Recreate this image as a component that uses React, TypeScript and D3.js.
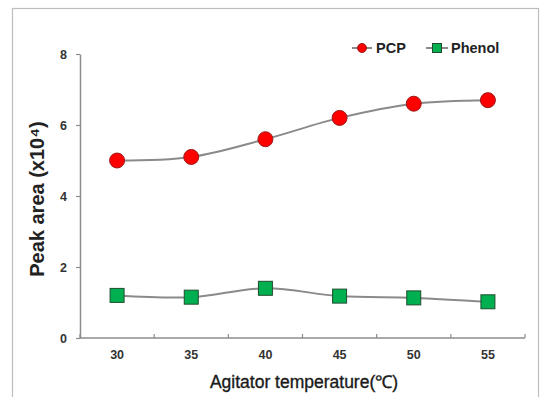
import { useEffect, useRef } from 'react';
import * as d3 from 'd3';

const temperatures = ['30', '35', '40', '45', '50', '55'];
const pcpValues = [5.0, 5.1, 5.6, 6.2, 6.6, 6.7];
const phenolValues = [1.2, 1.15, 1.4, 1.18, 1.13, 1.02];
const yTicks = [0, 2, 4, 6, 8];

const W = 540;
const H = 397;

export default function App() {
    const svgRef = useRef<SVGSVGElement>(null);

    useEffect(() => {
        if (!svgRef.current) return;
        const svg = d3.select(svgRef.current);
        svg.selectAll('*').remove();

        const margin = { top: 54, right: 15, bottom: 59, left: 80 };
        const innerW = W - margin.left - margin.right;
        const innerH = H - margin.top - margin.bottom;
        const font = 'Arial, "Liberation Sans", sans-serif';
        const axisColor = '#8c8c8c';

        // frame around the picture
        svg.append('rect')
            .attr('x', 12.5).attr('y', 8.5)
            .attr('width', 526).attr('height', 400)
            .attr('fill', 'white')
            .attr('stroke', '#bdbdbd')
            .attr('stroke-width', 1.2);

        const x = d3.scaleBand().domain(temperatures).range([0, innerW]);
        const y = d3.scaleLinear().domain([0, 8]).range([innerH, 0]);

        const g = svg.append('g').attr('transform', `translate(${margin.left},${margin.top})`);

        // y axis
        const yAxis = g.append('g')
            .call(d3.axisLeft(y).tickValues(yTicks).tickSize(4).tickSizeOuter(0).tickPadding(9));
        yAxis.select('.domain').attr('stroke', axisColor).attr('stroke-width', 1.5);
        yAxis.selectAll('line').attr('stroke', axisColor).attr('stroke-width', 1.2);
        yAxis.selectAll('text')
            .attr('font-family', font).attr('font-size', 12.5).attr('font-weight', 'bold').attr('fill', '#333');

        // x axis (ticks at the band edges)
        const xAxisG = g.append('g').attr('transform', `translate(0,${innerH})`);
        xAxisG.append('line')
            .attr('x1', 0).attr('x2', innerW)
            .attr('stroke', axisColor).attr('stroke-width', 1.5);
        const edges = temperatures.map(t => x(t) || 0).concat([innerW]);
        xAxisG.selectAll('.edge')
            .data(edges)
            .enter()
            .append('line')
            .attr('class', 'edge')
            .attr('x1', d => d).attr('x2', d => d)
            .attr('y1', 0).attr('y2', -4)
            .attr('stroke', axisColor).attr('stroke-width', 1.2);
        xAxisG.selectAll('.lbl')
            .data(temperatures)
            .enter()
            .append('text')
            .attr('class', 'lbl')
            .attr('x', d => (x(d) || 0) + x.bandwidth() / 2)
            .attr('y', 21)
            .attr('text-anchor', 'middle')
            .attr('font-family', font).attr('font-size', 12.5).attr('font-weight', 'bold').attr('fill', '#333')
            .text(d => d);

        const cx = (t: string) => (x(t) || 0) + x.bandwidth() / 2;

        const line = d3.line<number>()
            .x((_, i) => cx(temperatures[i]))
            .y(d => y(d))
            .curve(d3.curveCatmullRom.alpha(0.5));

        // PCP
        g.append('path')
            .datum(pcpValues)
            .attr('fill', 'none')
            .attr('stroke', '#8a8a8a')
            .attr('stroke-width', 2)
            .attr('d', line);
        g.selectAll('.pcp')
            .data(pcpValues)
            .enter()
            .append('circle')
            .attr('class', 'pcp')
            .attr('cx', (_, i) => cx(temperatures[i]))
            .attr('cy', d => y(d))
            .attr('r', 7.5)
            .attr('fill', '#ff0000')
            .attr('stroke', '#9a1a1a')
            .attr('stroke-width', 1);

        // Phenol
        g.append('path')
            .datum(phenolValues)
            .attr('fill', 'none')
            .attr('stroke', '#8a8a8a')
            .attr('stroke-width', 2)
            .attr('d', line);
        g.selectAll('.phenol')
            .data(phenolValues)
            .enter()
            .append('rect')
            .attr('class', 'phenol')
            .attr('x', (_, i) => cx(temperatures[i]) - 7)
            .attr('y', d => y(d) - 7)
            .attr('width', 14)
            .attr('height', 14)
            .attr('fill', '#00b050')
            .attr('stroke', '#1f4d2e')
            .attr('stroke-width', 1);

        // axis titles
        svg.append('text')
            .attr('transform', `translate(44,${margin.top + innerH / 2 + 3}) rotate(-90)`)
            .attr('text-anchor', 'middle')
            .attr('font-family', font).attr('font-size', 20).attr('font-weight', 'bold').attr('fill', '#222')
            .text('Peak area (x10⁴)');

        svg.append('text')
            .attr('x', 304)
            .attr('y', 388)
            .attr('text-anchor', 'middle')
            .attr('font-family', font).attr('font-size', 17.5).attr('fill', '#1a1a1a')
            .attr('stroke', '#1a1a1a').attr('stroke-width', 0.35)
            .text('Agitator temperature(℃)');

        // legend
        const legend = svg.append('g').attr('transform', 'translate(0,48)');
        legend.append('line').attr('x1', 352).attr('x2', 372).attr('stroke', '#8a8a8a').attr('stroke-width', 2);
        legend.append('circle').attr('cx', 362).attr('r', 4.5).attr('fill', '#ff0000').attr('stroke', '#9a1a1a');
        legend.append('text')
            .attr('x', 376).attr('y', 5)
            .attr('font-family', font).attr('font-size', 14.5).attr('font-weight', 'bold').attr('fill', '#222')
            .text('PCP');
        legend.append('line').attr('x1', 426).attr('x2', 448).attr('stroke', '#8a8a8a').attr('stroke-width', 2);
        legend.append('rect').attr('x', 432.5).attr('y', -4.5).attr('width', 9).attr('height', 9)
            .attr('fill', '#00b050').attr('stroke', '#1f4d2e');
        legend.append('text')
            .attr('x', 451).attr('y', 5)
            .attr('font-family', font).attr('font-size', 14.5).attr('font-weight', 'bold').attr('fill', '#222')
            .text('Phenol');
    }, []);

    return (
        <div style={{ position: 'fixed', left: 0, top: 0 }}>
            <svg ref={svgRef} width={W} height={H} style={{ display: 'block', background: 'white' }} />
        </div>
    );
}
